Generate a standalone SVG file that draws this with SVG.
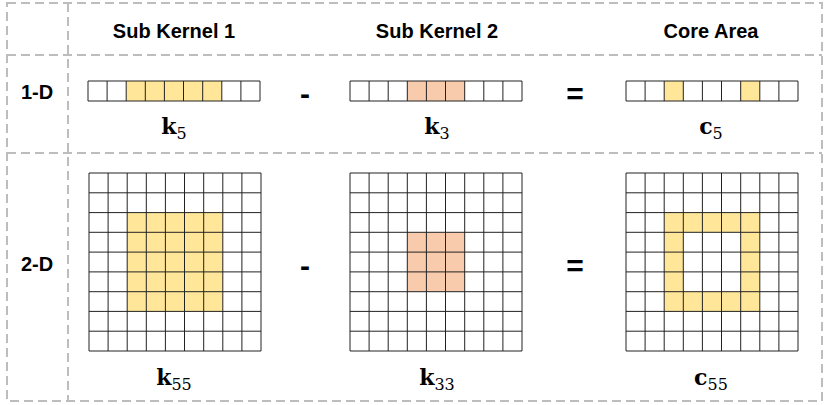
<svg xmlns="http://www.w3.org/2000/svg" width="830" height="405" viewBox="0 0 830 405">
<style>
.d{fill:none;stroke:#bdbdbd;stroke-width:2;stroke-dasharray:9 5}
.h{font-family:"Liberation Sans",Arial,sans-serif;font-weight:bold;font-size:20px;text-anchor:middle}
.op{font-family:"Liberation Sans",Arial,sans-serif;font-weight:bold;font-size:30px;text-anchor:middle}
.m{font-family:"DejaVu Serif","Liberation Serif",serif;font-size:22px;text-anchor:middle}
.m .b{font-weight:bold}
.m .s{font-size:16px;font-weight:normal}
.y{fill:#FFE699}.o{fill:#F8CBAD}
.g{stroke:#222;stroke-width:1;fill:none}
</style>
<defs>
<g id="row"><path class="g" d="M0,0H172V20H0Z M19.1,0V20 M38.2,0V20 M57.3,0V20 M76.4,0V20 M95.5,0V20 M114.7,0V20 M133.8,0V20 M152.9,0V20"/></g>
<g id="grid"><path class="g" d="M0,0H172V178H0Z M19.1,0V178 M38.2,0V178 M57.3,0V178 M76.4,0V178 M95.5,0V178 M114.7,0V178 M133.8,0V178 M152.9,0V178 M0,19.8H172 M0,39.6H172 M0,59.3H172 M0,79.1H172 M0,98.9H172 M0,118.7H172 M0,138.4H172 M0,158.2H172"/></g>
</defs>
<g id="frame">
<rect class="d" x="7" y="3" width="815" height="398"/>
<line class="d" x1="68" y1="3" x2="68" y2="401"/>
<line class="d" x1="7" y1="55" x2="822" y2="55"/>
<line class="d" x1="7" y1="153" x2="822" y2="153"/>
</g>
<g id="headers">
<text class="h" x="174" y="38">Sub Kernel 1</text>
<text class="h" x="437" y="38">Sub Kernel 2</text>
<text class="h" x="711" y="38">Core Area</text>
<text class="h" x="37" y="99">1-D</text>
<text class="h" x="37" y="271">2-D</text>
</g>
<g id="k5">
<rect class="y" x="126.3" y="81" width="95.5" height="20"/>
<use href="#row" x="88" y="81"/>
<text class="m" x="174" y="134"><tspan class="b">k</tspan><tspan class="s" dy="5">5</tspan></text>
</g>
<g id="k3">
<rect class="o" x="407.3" y="81" width="57.3" height="20"/>
<use href="#row" x="350" y="81"/>
<text class="m" x="437" y="134"><tspan class="b">k</tspan><tspan class="s" dy="5">3</tspan></text>
</g>
<g id="c5">
<rect class="y" x="664.2" y="81" width="19.1" height="20"/>
<rect class="y" x="740.6" y="81" width="19.1" height="20"/>
<use href="#row" x="626" y="81"/>
<text class="m" x="711" y="134"><tspan class="b">c</tspan><tspan class="s" dy="5">5</tspan></text>
</g>
<g id="k55">
<rect class="y" x="127.2" y="212.6" width="95.5" height="98.9"/>
<use href="#grid" x="89" y="173"/>
<text class="m" x="174" y="385"><tspan class="b">k</tspan><tspan class="s" dy="5">55</tspan></text>
</g>
<g id="k33">
<rect class="o" x="407.3" y="232.3" width="57.3" height="59.4"/>
<use href="#grid" x="350" y="173"/>
<text class="m" x="437" y="385"><tspan class="b">k</tspan><tspan class="s" dy="5">33</tspan></text>
</g>
<g id="c55">
<path class="y" fill-rule="evenodd" d="M664.2,212.6h95.5v98.9h-95.5Z M683.3,232.4v59.3h57.3v-59.3Z"/>
<use href="#grid" x="626" y="173"/>
<text class="m" x="711" y="385"><tspan class="b">c</tspan><tspan class="s" dy="5">55</tspan></text>
</g>
<g id="ops">
<text class="op" x="305" y="104">-</text>
<text class="op" x="575" y="104">=</text>
<text class="op" x="305" y="276">-</text>
<text class="op" x="575" y="276">=</text>
</g>
</svg>
